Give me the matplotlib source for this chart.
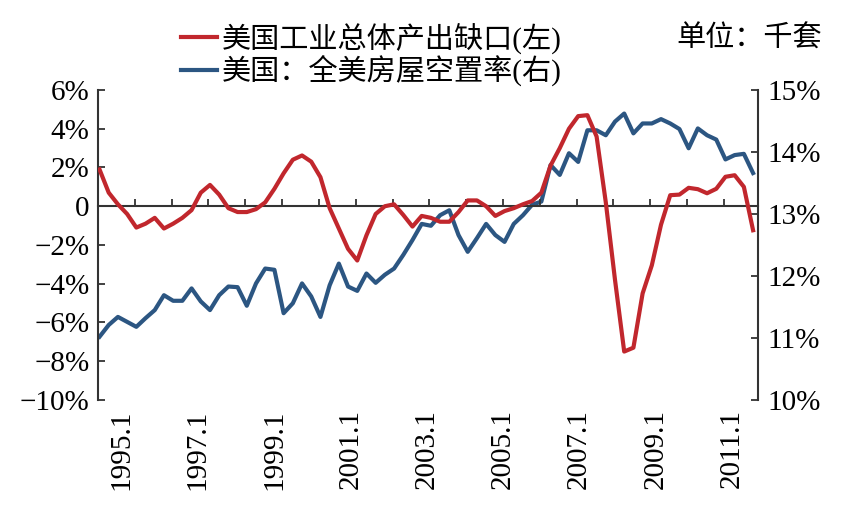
import numpy as np
import matplotlib.pyplot as plt
from matplotlib.lines import Line2D

plt.rcParams['font.family'] = ['Liberation Serif', 'Noto Sans CJK SC']
plt.rcParams['axes.unicode_minus'] = True

# quarterly readings, 1995Q1 .. 2012Q4
output_gap = [1.9, 0.7, 0.1, -0.4, -1.1, -0.9, -0.6, -1.15, -0.9, -0.6,
              -0.2, 0.7, 1.1, 0.6, -0.1, -0.3, -0.3, -0.15, 0.2, 0.9,
              1.7, 2.4, 2.62, 2.3, 1.5, -0.1, -1.15, -2.2, -2.8, -1.5,
              -0.4, 0.0, 0.1, -0.45, -1.05, -0.5, -0.6, -0.8, -0.8, -0.3,
              0.3, 0.3, 0.0, -0.5, -0.25, -0.1, 0.1, 0.27, 0.7, 2.1,
              3.0, 4.0, 4.65, 4.7, 3.6, 0.2, -3.8, -7.5, -7.3, -4.5,
              -3.05, -0.95, 0.57, 0.6, 0.95, 0.88, 0.67, 0.9, 1.52, 1.6,
              1.0, -1.24]
vacancy = [11.02, 11.21, 11.34, 11.26, 11.18, 11.32, 11.45, 11.69, 11.6, 11.6,
           11.8, 11.59, 11.45, 11.69, 11.83, 11.82, 11.52, 11.88, 12.12, 12.1,
           11.4, 11.56, 11.88, 11.67, 11.34, 11.85, 12.2, 11.83, 11.76, 12.04,
           11.89, 12.02, 12.12, 12.34, 12.58, 12.84, 12.81, 12.98, 13.06, 12.66,
           12.39, 12.61, 12.84, 12.66, 12.55, 12.84, 12.98, 13.15, 13.2, 13.79,
           13.63, 13.98, 13.84, 14.35, 14.35, 14.27, 14.49, 14.62, 14.3, 14.46,
           14.46, 14.53, 14.46, 14.37, 14.06, 14.38, 14.27, 14.2, 13.88, 13.95,
           13.97, 13.66]
year_labels = ['1995.1', '1997.1', '1999.1', '2001.1', '2003.1',
               '2005.1', '2007.1', '2009.1', '2011.1']
gap_name = '美国工业总体产出缺口(左)'
vac_name = '美国：全美房屋空置率(右)'

red = '#C1272D'
blue = '#2C5682'
axis_col = '#333333'
fs = 21

months = np.arange(len(output_gap)) * 3

fig = plt.figure(figsize=(8.61, 5.18), dpi=100)
ax = fig.add_axes([0.1138, 0.2278, 0.7662, 0.5985])
ax2 = ax.twinx()
ax.set_zorder(ax2.get_zorder() + 1)
ax.patch.set_visible(False)

l1, = ax.plot(months, output_gap, color=red, lw=3, zorder=3,
              solid_joinstyle='round')
l2, = ax2.plot(months, vacancy, color=blue, lw=3, solid_joinstyle='round')

ax.set_xlim(-0.5, 214.5)
ax.set_ylim(-10, 6)
ax2.set_ylim(10, 15)

ax.set_yticks(np.arange(-10, 7, 2))
ax.set_yticklabels([('%d%%' % v if v != 0 else '0').replace('-', '\u2212')
                    for v in range(-10, 7, 2)])
ax2.set_yticks(np.arange(10, 16, 1))
ax2.set_yticklabels(['%d%%' % v for v in range(10, 16)])

for s in ['top', 'right']:
    ax.spines[s].set_visible(False)
for s in ['top', 'left', 'bottom']:
    ax2.spines[s].set_visible(False)
ax.spines['bottom'].set_position(('data', 0))
for sp in [ax.spines['left'], ax.spines['bottom'], ax2.spines['right']]:
    sp.set_color(axis_col)
    sp.set_linewidth(1.5)

ax.set_xticks(np.arange(11.5, 214, 12))
ax.tick_params(axis='x', direction='in', length=5, width=1.3,
               color=axis_col, labelbottom=False)
ax.tick_params(axis='y', direction='in', length=5, width=1.3,
               color=axis_col, labelsize=fs, pad=6)
ax2.tick_params(axis='y', direction='in', length=5, width=1.3,
                color=axis_col, labelsize=fs, pad=7)

label_pos = np.linspace(7.2, 206.0, len(year_labels))
for xp, lab in zip(label_pos, year_labels):
    ax.text(xp, -0.03, lab, transform=ax.get_xaxis_transform(),
            rotation=90, ha='center', va='top', fontsize=fs)

fig.legend([l1, l2], [gap_name, vac_name], loc='upper left',
           bbox_to_anchor=(0.21, 0.957), frameon=False, fontsize=fs,
           handlelength=1.25, handletextpad=0.15, labelspacing=0.05,
           borderpad=0, borderaxespad=0)
fig.text(0.955, 0.924, '单位：千套', ha='right', va='center', fontsize=fs)

fig.savefig('out.png', dpi=100)
